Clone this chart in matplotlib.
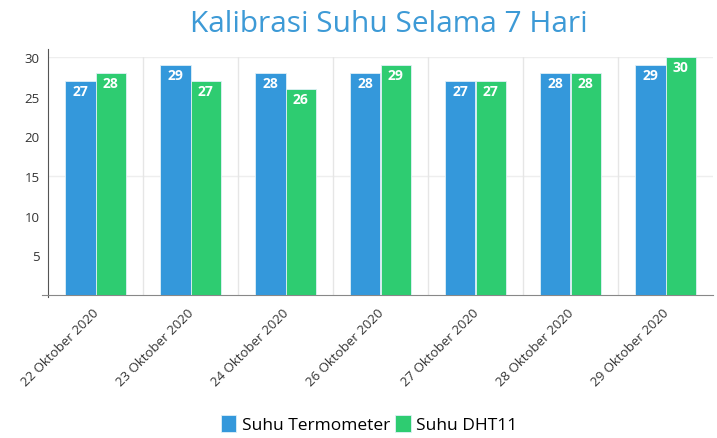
import matplotlib.pyplot as plt
import numpy as np

plt.rcParams['font.family'] = ['Open Sans', 'DejaVu Sans']

dates = ['22 Oktober 2020', '23 Oktober 2020', '24 Oktober 2020', '26 Oktober 2020',
         '27 Oktober 2020', '28 Oktober 2020', '29 Oktober 2020']
termometer = [27, 29, 28, 28, 27, 28, 29]
dht11 = [28, 27, 26, 29, 27, 28, 30]

blue = '#3498db'
green = '#2ecc71'

fig = plt.figure(figsize=(7.17, 4.39), dpi=100)
ax = fig.add_axes([48/717, 1 - 296/439, 665/717, 238/439])

x = np.arange(len(dates))
w = 0.32
b1 = ax.bar(x - w/2, termometer, w, color=blue, edgecolor='#dff0f7', linewidth=0.6, label='Suhu Termometer', zorder=3)
b2 = ax.bar(x + w/2, dht11, w, color=green, edgecolor='#dff0f7', linewidth=0.6, label='Suhu DHT11', zorder=3)

for bars, vals in [(b1, termometer), (b2, dht11)]:
    for r, v in zip(bars, vals):
        ax.text(r.get_x() + r.get_width()/2, v - 0.35, str(v), ha='center', va='top',
                color='white', fontsize=10, fontweight='bold', zorder=4)

ax.set_xlim(-0.5, len(dates) - 0.5)
ax.set_ylim(0, 30)
ax.set_yticks([5, 10, 15, 20, 25, 30])
ax.tick_params(axis='y', length=0, labelsize=9.5, colors='#333333', pad=6)
ax.set_xticks(x - 0.04)
ax.set_xticklabels(dates, rotation=45, ha='right', rotation_mode='anchor', fontsize=9.5, color='#333333')
ax.tick_params(axis='x', length=0, pad=8)

for yv in [15, 30]:
    ax.axhline(yv, color='#eeeeee', linewidth=1, zorder=1)
for xv in np.arange(0.5, len(dates) - 0.5, 1):
    ax.axvline(xv, color='#e6e6e6', linewidth=1, zorder=1)

for s in ['top', 'right']:
    ax.spines[s].set_visible(False)
ax.spines['left'].set_color('#555555')
ax.spines['bottom'].set_color('#888888')
ax.spines['left'].set_bounds(-0.3, 31)
ax.spines['bottom'].set_bounds(-0.56, len(dates) - 0.5)

fig.text(389/717, 1 - 25/439, 'Kalibrasi Suhu Selama 7 Hari', ha='center', va='center',
         fontsize=21.5, color='#3d9ad6')

fig.legend(handles=[b1, b2], loc='center', bbox_to_anchor=(369/717, 1 - 425/439), ncol=2,
           frameon=False, fontsize=12.5, handlelength=0.9, handleheight=1.1,
           handletextpad=0.3, columnspacing=0.3)

fig.savefig('out.png', dpi=100)
